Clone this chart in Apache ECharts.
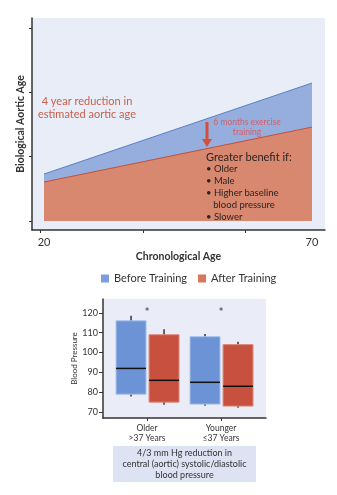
<!DOCTYPE html>
<html>
<head>
<meta charset="utf-8">
<title>Aortic age and blood pressure</title>
<script src="https://cdn.jsdelivr.net/npm/echarts@6/dist/echarts.min.js"></script>
<style>
    html, body { margin: 0; padding: 0; background: #fff; }
    #chart { width: 337px; height: 495px; }
</style>
</head>
<body>
<div id="chart"></div>
<script>
// 上图：生物学主动脉年龄 vs 实际年龄（示意）
const ageX = [20, 70];
const ageBefore = [7.3, 21.45];
const ageAfter = [6.06, 14.6];
const ageTicks = [0, 10, 20, 30];
const ageXTicks = [19.3, 38.5, 57.5];
const ageXLabels = [20, 70];

// 下图：血压箱线图 [组索引, 下须, Q1, 中位数, Q3, 上须]
const bpGroups = ['Older\n>37 Years', 'Younger\n≤37 Years'];
const bpBefore = [
    [0, 77.8, 79, 92, 116, 118.5],
    [1, 73.2, 74, 85, 108, 109.4]
];
const bpAfter = [
    [0, 73.7, 75, 86, 109, 111.8],
    [1, 72.2, 73, 83, 104, 105.5]
];
const bpTicks = [70, 80, 90, 100, 110, 120];
const bpStars = [[0, 120.3], [1, 120.3]];

const FONT = 'Lato, "Noto Sans", sans-serif';
const BLUE = '#6b93d6';
const RED = '#c8503e';

// 箱体绘制（无须线横帽）
function boxRenderer(offset, fill, stroke) {
    return function (params, api) {
        let x = api.value(0) + offset;
        let low = api.coord([x, api.value(1)]);
        let q1 = api.coord([x, api.value(2)]);
        let med = api.coord([x, api.value(3)]);
        let q3 = api.coord([x, api.value(4)]);
        let high = api.coord([x, api.value(5)]);
        let halfW = api.size([0.405, 0])[0] / 2;
        return {
            type: 'group',
            children: [
                { type: 'line', shape: { x1: high[0], y1: high[1], x2: low[0], y2: low[1] },
                  style: { stroke: '#333', lineWidth: 1.5 } },
                { type: 'rect', shape: { x: q3[0] - halfW, y: q3[1], width: halfW * 2, height: q1[1] - q3[1] },
                  style: { fill: fill, stroke: stroke, lineWidth: 1 } },
                { type: 'line', shape: { x1: med[0] - halfW, y1: med[1], x2: med[0] + halfW, y2: med[1] },
                  style: { stroke: '#111', lineWidth: 1.5 } }
            ]
        };
    };
}

// 轴线不跟随 0 值
const axisLine = { show: true, onZero: false, lineStyle: { color: '#333', width: 1.5 } };

let myChart = echarts.init(document.getElementById('chart'));
let option = {
    animation: false,
    textStyle: { fontFamily: FONT },
    legend: {
        top: 268,
        left: 96,
        icon: 'rect',
        itemWidth: 8,
        itemHeight: 8,
        itemGap: 11,
        textStyle: { fontSize: 11, color: '#333', fontFamily: FONT },
        data: [
            { name: 'Before Training', itemStyle: { color: '#7d9edb' } },
            { name: 'After Training', itemStyle: { color: '#d9775c' } }
        ]
    },
    grid: [
        { left: 32, right: 12, top: 18, bottom: 265, show: true, backgroundColor: '#e9edf7', borderWidth: 0 },
        { left: 103, right: 71, top: 299, bottom: 77, show: true, backgroundColor: '#eaedf7', borderWidth: 0 }
    ],
    xAxis: [
        {
            gridIndex: 0, type: 'value', min: 17.76, max: 72.43,
            name: 'Chronological Age', nameLocation: 'middle', nameGap: 21,
            nameTextStyle: { fontSize: 10.5, fontWeight: 'bold', color: '#333' },
            axisLine: axisLine,
            axisTick: { show: true, length: 3, customValues: ageXTicks, lineStyle: { color: '#333' } },
            axisLabel: { customValues: ageXLabels, fontSize: 11, color: '#333', margin: 7 },
            splitLine: { show: false }
        },
        {
            gridIndex: 1, type: 'value', min: -0.595, max: 1.608,
            axisLine: axisLine,
            axisTick: { show: true, length: 3, customValues: [0, 1], lineStyle: { color: '#333' } },
            axisLabel: {
                customValues: [0, 1], fontSize: 8.5, color: '#333', lineHeight: 10, margin: 5,
                formatter: v => bpGroups[Math.round(v)]
            },
            splitLine: { show: false }
        }
    ],
    yAxis: [
        {
            gridIndex: 0, type: 'value', min: -1.4, max: 31.56,
            name: 'Biological Aortic Age', nameLocation: 'middle', nameGap: 6,
            nameTextStyle: { fontSize: 10.5, fontWeight: 'bold', color: '#333' },
            axisLine: axisLine,
            axisTick: { show: true, length: 3, customValues: ageTicks, lineStyle: { color: '#333' } },
            axisLabel: { show: false },
            splitLine: { show: false }
        },
        {
            gridIndex: 1, type: 'value', min: 67, max: 127,
            name: 'Blood Pressure', nameLocation: 'middle', nameGap: 24,
            nameTextStyle: { fontSize: 8, color: '#333' },
            axisLine: axisLine,
            axisTick: { show: true, length: 4, customValues: bpTicks, lineStyle: { color: '#333' } },
            axisLabel: { customValues: bpTicks, fontSize: 9, color: '#333', margin: 5 },
            splitLine: { show: false }
        }
    ],
    series: [
        {
            name: 'Before Training', type: 'line', xAxisIndex: 0, yAxisIndex: 0,
            data: ageX.map((x, i) => [x, ageBefore[i]]),
            showSymbol: false,
            lineStyle: { color: '#5a7fc4', width: 1 },
            areaStyle: { color: '#96aede', opacity: 1 }
        },
        {
            name: 'After Training', type: 'line', xAxisIndex: 0, yAxisIndex: 0,
            data: ageX.map((x, i) => [x, ageAfter[i]]),
            showSymbol: false,
            lineStyle: { color: '#c4503b', width: 1 },
            areaStyle: { color: '#d7886e', opacity: 1 }
        },
        {
            name: 'Before Training', type: 'custom', xAxisIndex: 1, yAxisIndex: 1,
            renderItem: boxRenderer(-0.216, BLUE, '#a6c0ea'),
            data: bpBefore
        },
        {
            name: 'After Training', type: 'custom', xAxisIndex: 1, yAxisIndex: 1,
            renderItem: boxRenderer(0.23, RED, '#de8a7a'),
            data: bpAfter
        },
        {
            // 显著性星号
            type: 'scatter', xAxisIndex: 1, yAxisIndex: 1,
            symbolSize: 0,
            label: {
                show: true, position: 'inside', formatter: '*', fontSize: 11, fontWeight: 'bold',
                color: '#333', textBorderWidth: 0
            },
            data: bpStars
        }
    ],
    graphic: [
        {
            type: 'text', x: 87, y: 108, z: 100,
            style: {
                text: '4 year reduction in\nestimated aortic age', fill: '#c8604c',
                font: '11px ' + FONT, align: 'center', verticalAlign: 'middle', lineHeight: 12.5
            }
        },
        {
            type: 'text', x: 247, y: 127.5, z: 100,
            style: {
                text: '6 months exercise\ntraining', fill: '#d0606a',
                font: '8.5px ' + FONT, align: 'center', verticalAlign: 'middle', lineHeight: 9.5
            }
        },
        // 向下箭头
        {
            type: 'polygon', z: 100,
            shape: { points: [[205.5, 122], [208.5, 122], [208.5, 139], [212, 139], [207, 147], [202, 139], [205.5, 139]] },
            style: { fill: '#d24f3c' }
        },
        {
            type: 'text', x: 206, y: 157, z: 100,
            style: { text: 'Greater benefit if:', fill: '#2c2222', font: '11px ' + FONT, verticalAlign: 'middle' }
        },
        {
            type: 'text', x: 206, y: 163.5, z: 100,
            style: {
                text: '• Older\n• Male\n• Higher baseline\n   blood pressure\n• Slower',
                fill: '#2c2222', font: '9.5px ' + FONT, verticalAlign: 'top', lineHeight: 11.8
            }
        },
        // 说明框
        {
            type: 'rect', z: 100, shape: { x: 113, y: 446, width: 143, height: 36 },
            style: { fill: '#dde3f3' }
        },
        {
            type: 'text', x: 184.5, y: 464, z: 101,
            style: {
                text: '4/3 mm Hg reduction in\ncentral (aortic) systolic/diastolic\nblood pressure',
                fill: '#333', font: '9px ' + FONT, align: 'center', verticalAlign: 'middle', lineHeight: 11
            }
        }
    ]
};
myChart.setOption(option);
</script>
</body>
</html>
